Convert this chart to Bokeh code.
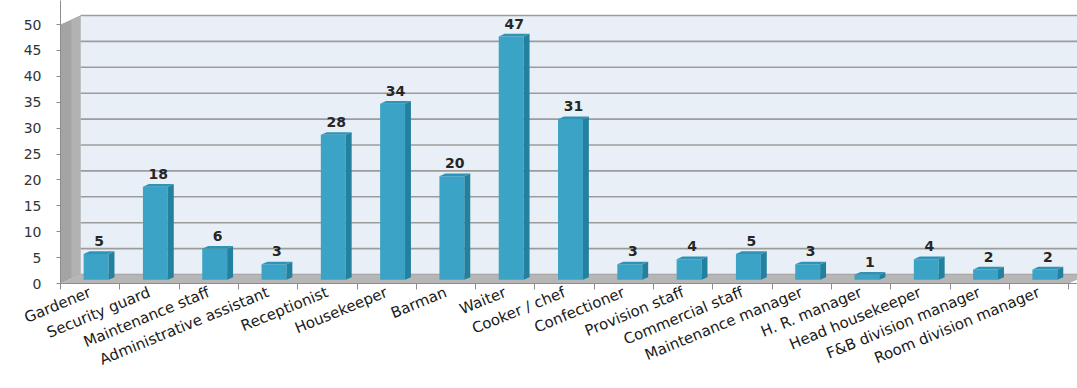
from bokeh.plotting import figure
from bokeh.models import Range1d, FixedTicker
from bokeh.core.properties import value
from bokeh.embed import file_html
from bokeh.resources import INLINE

# Staff counts per job position
categories = [
    "Gardener", "Security guard", "Maintenance staff", "Administrative assistant",
    "Receptionist", "Housekeeper", "Barman", "Waiter", "Cooker / chef",
    "Confectioner", "Provision staff", "Commercial staff", "Maintenance manager",
    "H. R. manager", "Head housekeeper", "F&B division manager", "Room division manager",
]
counts = [5, 18, 6, 3, 28, 34, 20, 47, 31, 3, 4, 5, 3, 1, 4, 2, 2]
y_ticks = [0, 5, 10, 15, 20, 25, 30, 35, 40, 45, 50]

n = len(categories)
y_max = y_ticks[-1]

# 3D box depth (offset of the back wall), in data units
DX, DY = 0.337, 1.74
# bar placement inside the box: front-face shift, and bar depth
FX, FY = 0.10, 0.70
SX, SY = 0.10, 0.52
HALF = 0.21

FONT = "DejaVu Sans"

p = figure(
    width=1077, height=388,
    x_range=Range1d(0, 17.15), y_range=Range1d(0, 54.64),
    output_backend="svg", toolbar_location=None,
    min_border_left=60, min_border_right=0, min_border_top=0, min_border_bottom=105,
)
p.outline_line_color = None
p.grid.visible = False
p.background_fill_color = "white"
p.border_fill_color = "white"

# back wall with its gridlines
p.quad(left=DX, right=n + 3, bottom=DY, top=y_max + DY,
       fill_color="#e9eff6", line_color=None)
p.segment(x0=[DX] * len(y_ticks), x1=[n + 3] * len(y_ticks),
          y0=[t + DY for t in y_ticks], y1=[t + DY for t in y_ticks],
          line_color="#9c9c9c", line_width=1.6)

# left side wall (two tones for a little shading)
p.patch([0, 0, DX, DX], [0, y_max, y_max + DY, DY],
        fill_color="#a4a4a4", line_color=None)
p.patch([DX * 0.55, DX * 0.55, DX, DX], [DY * 0.55, y_max + DY * 0.55, y_max + DY, DY],
        fill_color="#b2b2b2", line_color=None)
# floor
p.patch([0, n, n + DX, DX], [0, 0, DY, DY],
        fill_color="#b6b6b6", line_color=None)

# 3D columns
centers = [i + 0.5 for i in range(n)]
lefts = [c + FX - HALF for c in centers]
rights = [c + FX + HALF for c in centers]

p.quad(left=lefts, right=rights, bottom=[FY] * n, top=[FY + v for v in counts],
       fill_color="#3aa3c6", line_color=None)
p.patches(
    xs=[[r, r + SX, r + SX, r] for r in rights],
    ys=[[FY, FY + SY, FY + v + SY, FY + v] for v in counts],
    fill_color="#24809f", line_color=None,
)
p.patches(
    xs=[[l, r, r + SX, l + SX] for l, r in zip(lefts, rights)],
    ys=[[FY + v, FY + v, FY + v + SY, FY + v + SY] for v in counts],
    fill_color="#2f93b6", line_color=None,
)

# value labels above the columns
p.text(
    x=[c + FX + SX / 2 for c in centers],
    y=[FY + v + SY + 1.0 for v in counts],
    text=[str(v) for v in counts],
    text_align="center", text_baseline="bottom",
    text_font=value(FONT), text_font_size="14px", text_font_style="bold",
    text_color="#262626",
)

# x axis: labels at the column centres, ticks between columns
xa = p.xaxis[0]
xa.ticker = FixedTicker(ticks=centers, minor_ticks=list(range(n + 1)))
xa.major_label_overrides = {c: name for c, name in zip(centers, categories)}
xa.major_label_orientation = 0.39
xa.major_tick_line_color = None
xa.major_tick_out = 4
xa.major_tick_in = 0
xa.minor_tick_out = 6
xa.minor_tick_in = 0
xa.minor_tick_line_color = "#8c8c8c"
xa.axis_line_color = "#8c8c8c"
xa.major_label_text_font = FONT
xa.major_label_text_font_size = "15px"
xa.major_label_text_color = "#1a1a1a"
xa.major_label_standoff = 2

# y axis
ya = p.yaxis[0]
ya.ticker = FixedTicker(ticks=y_ticks)
ya.axis_line_color = "#8c8c8c"
ya.major_tick_line_color = "#8c8c8c"
ya.major_tick_out = 4
ya.major_tick_in = 0
ya.minor_tick_line_color = None
ya.major_label_standoff = 15
ya.major_label_text_font = FONT
ya.major_label_text_font_size = "14px"
ya.major_label_text_color = "#333333"

open("out.html", "w").write(file_html(p, INLINE))
